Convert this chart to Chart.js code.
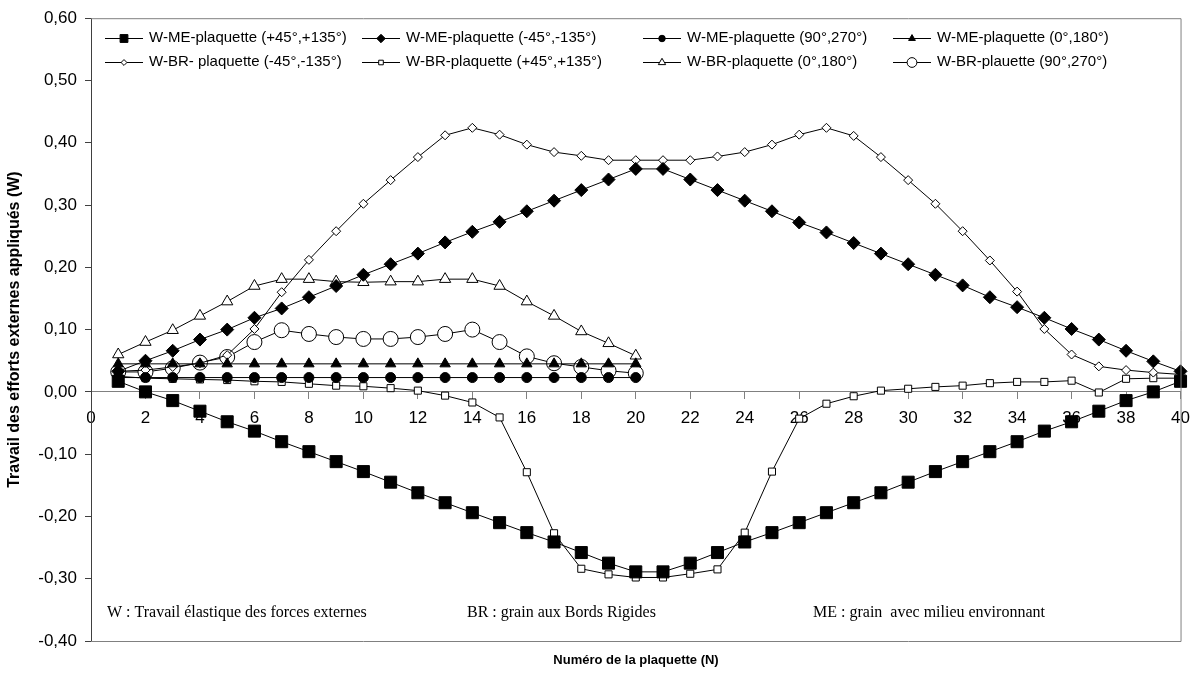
<!DOCTYPE html>
<html>
<head>
<meta charset="utf-8">
<script src="https://cdn.jsdelivr.net/npm/chart.js@4.4.1/dist/chart.umd.min.js"></script>
<style>
  body { margin: 0; background: #fff; }
  #wrap { width: 1199px; height: 675px; }
</style>
</head>
<body>
<div id="wrap"><canvas id="chartCanvas" width="1199" height="675"></canvas></div>
<script>
// plaquette numbers (x axis)
const plaquettes = [1, 2, 3, 4, 5, 6, 7, 8, 9, 10, 11, 12, 13, 14, 15, 16, 17, 18, 19, 20,
  21, 22, 23, 24, 25, 26, 27, 28, 29, 30, 31, 32, 33, 34, 35, 36, 37, 38, 39, 40];

// ME series
const meP45 = [0.017, 0.000, -0.014, -0.031, -0.048, -0.063, -0.080, -0.096, -0.112, -0.128,
  -0.145, -0.162, -0.178, -0.194, -0.210, -0.226, -0.241, -0.258, -0.275, -0.289,
  -0.289, -0.275, -0.258, -0.241, -0.226, -0.210, -0.194, -0.178, -0.162, -0.145,
  -0.128, -0.112, -0.096, -0.080, -0.063, -0.048, -0.031, -0.014, 0.000, 0.017];
const meM45 = [0.033, 0.050, 0.066, 0.084, 0.100, 0.119, 0.134, 0.152, 0.170, 0.188,
  0.205, 0.222, 0.240, 0.257, 0.273, 0.290, 0.307, 0.324, 0.341, 0.358,
  0.358, 0.341, 0.324, 0.307, 0.290, 0.272, 0.256, 0.239, 0.222, 0.205,
  0.188, 0.171, 0.152, 0.136, 0.119, 0.101, 0.084, 0.066, 0.049, 0.033];
const me90 = [0.023, 0.023, 0.023, 0.023, 0.023, 0.023, 0.023, 0.023, 0.023, 0.023,
  0.023, 0.023, 0.023, 0.023, 0.023, 0.023, 0.023, 0.023, 0.023, 0.023];
const me0 = [0.045, 0.045, 0.045, 0.045, 0.045, 0.045, 0.045, 0.045, 0.045, 0.045,
  0.045, 0.045, 0.045, 0.045, 0.045, 0.045, 0.045, 0.045, 0.045, 0.045];

// BR series
const brM45 = [0.033, 0.035, 0.040, 0.046, 0.059, 0.101, 0.160, 0.212, 0.258, 0.302,
  0.340, 0.377, 0.412, 0.424, 0.413, 0.397, 0.385, 0.379, 0.372, 0.372,
  0.372, 0.372, 0.378, 0.385, 0.397, 0.413, 0.424, 0.411, 0.377, 0.340,
  0.302, 0.258, 0.211, 0.161, 0.101, 0.060, 0.041, 0.035, 0.031, 0.028];
const brP45 = [0.025, 0.022, 0.021, 0.020, 0.019, 0.017, 0.016, 0.013, 0.010, 0.009,
  0.006, 0.002, -0.006, -0.017, -0.041, -0.129, -0.227, -0.284, -0.293, -0.298,
  -0.298, -0.292, -0.285, -0.226, -0.128, -0.043, -0.019, -0.007, 0.002, 0.005,
  0.008, 0.010, 0.014, 0.016, 0.016, 0.018, -0.001, 0.021, 0.022, 0.022];
const br0 = [0.060, 0.080, 0.099, 0.122, 0.145, 0.170, 0.181, 0.181, 0.177, 0.176,
  0.177, 0.177, 0.181, 0.181, 0.170, 0.145, 0.122, 0.097, 0.078, 0.058];
const br90 = [0.032, 0.032, 0.038, 0.047, 0.056, 0.080, 0.099, 0.093, 0.088, 0.085,
  0.085, 0.088, 0.093, 0.100, 0.080, 0.057, 0.046, 0.040, 0.034, 0.030];

const yTicks = [-0.4, -0.3, -0.2, -0.1, 0, 0.1, 0.2, 0.3, 0.4, 0.5, 0.6];
const notes = ["W : Travail élastique des forces externes", "BR : grain aux Bords Rigides", "ME : grain  avec milieu environnant"];

function pts(vals) {
  return vals.map((v, i) => ({ x: plaquettes[i], y: v }));
}

function series(label, vals, style, radius, filled) {
  return {
    label: label,
    data: pts(vals),
    borderColor: "#000",
    borderWidth: 1,
    pointStyle: style,
    pointRadius: radius,
    pointHoverRadius: radius,
    pointBackgroundColor: filled ? "#000" : "#fff",
    pointBorderColor: "#000",
    pointBorderWidth: 1,
    fill: false,
    tension: 0,
    clip: false
  };
}

const datasets = [
  series("W-ME-plaquette (+45°,+135°)", meP45, "rect", 8.5, true),
  series("W-ME-plaquette (-45°,-135°)", meM45, "rectRot", 6.5, true),
  series("W-ME-plaquette (90°,270°)", me90, "circle", 5, true),
  series("W-ME-plaquette (0°,180°)", me0, "triangle", 6, true),
  series("W-BR- plaquette (-45°,-135°)", brM45, "rectRot", 4.5, false),
  series("W-BR-plaquette (+45°,+135°)", brP45, "rect", 5, false),
  series("W-BR-plaquette (0°,180°)", br0, "triangle", 6.5, false),
  series("W-BR-plauette (90°,270°)", br90, "circle", 7.5, false)
];

const SANS = "'Liberation Sans', Arial, sans-serif";
const SERIF = "'Liberation Serif', 'Times New Roman', serif";

// legend, frame, notes and x title drawn on top of the plot
const extras = {
  id: "extras",
  afterDraw(chart) {
    const ctx = chart.ctx;
    const a = chart.chartArea;
    ctx.save();
    ctx.strokeStyle = "#808080";
    ctx.lineWidth = 1;
    ctx.beginPath();
    ctx.moveTo(a.left, a.top + 0.5);
    ctx.lineTo(a.right + 0.5, a.top + 0.5);
    ctx.lineTo(a.right + 0.5, a.bottom + 0.5);
    ctx.lineTo(a.left, a.bottom + 0.5);
    ctx.stroke();

    // legend: 4 columns x 2 rows
    const cols = [105, 362, 643, 893];
    const rows = [38, 62];
    ctx.font = "15px " + SANS;
    ctx.textBaseline = "middle";
    ctx.textAlign = "left";
    chart.data.datasets.forEach((ds, k) => {
      const x = cols[k % 4];
      const y = rows[Math.floor(k / 4)];
      ctx.strokeStyle = "#000";
      ctx.lineWidth = 1;
      ctx.beginPath();
      ctx.moveTo(x, y + 0.5);
      ctx.lineTo(x + 38, y + 0.5);
      ctx.stroke();
      ctx.fillStyle = ds.pointBackgroundColor;
      ctx.strokeStyle = "#000";
      Chart.helpers.drawPoint(ctx, {
        pointStyle: ds.pointStyle,
        radius: ds.pointRadius * 0.65,
        rotation: 0,
        borderWidth: 1
      }, x + 19, y + 0.5);
      ctx.fillStyle = "#000";
      ctx.fillText(ds.label, x + 44, y);
    });

    // notes at the bottom of the plot
    ctx.font = "16px " + SERIF;
    const noteX = [107, 467, 813];
    notes.forEach((t, i) => ctx.fillText(t, noteX[i], 613));

    // x axis title
    ctx.font = "bold 13px " + SANS;
    ctx.textAlign = "center";
    ctx.fillText("Numéro de la plaquette (N)", 636, 660);
    ctx.restore();
  }
};

new Chart(document.getElementById("chartCanvas"), {
  type: "line",
  data: { datasets },
  options: {
    responsive: false,
    animation: false,
    events: [],
    layout: { padding: { left: 0, top: 17, right: 18, bottom: 34 } },
    plugins: {
      legend: { display: false },
      tooltip: { enabled: false }
    },
    scales: {
      x: {
        type: "linear",
        min: 0,
        max: 40,
        position: { y: 0 },
        ticks: {
          stepSize: 2,
          autoSkip: false,
          maxRotation: 0,
          padding: 9,
          color: "#000",
          font: { size: 17, family: SANS }
        },
        grid: { drawOnChartArea: false, drawTicks: true, tickLength: 7, color: "#808080" },
        border: { color: "#808080" }
      },
      y: {
        min: -0.4,
        max: 0.6,
        afterFit(s) { s.width = 91; },
        afterBuildTicks(s) { s.ticks = yTicks.map(v => ({ value: v })); },
        ticks: {
          padding: 8,
          color: "#000",
          font: { size: 17, family: SANS },
          callback: v => (Math.abs(v) < 1e-9 ? 0 : v).toFixed(2).replace(".", ",")
        },
        grid: { drawOnChartArea: false, drawTicks: true, tickLength: 6, color: "#404040" },
        border: { color: "#404040" },
        title: {
          display: true,
          text: "Travail des efforts externes appliqués (W)",
          color: "#000",
          font: { size: 16, weight: "bold", family: SANS },
          padding: { top: 5, bottom: 0 }
        }
      }
    }
  },
  plugins: [extras]
});
</script>
</body>
</html>
